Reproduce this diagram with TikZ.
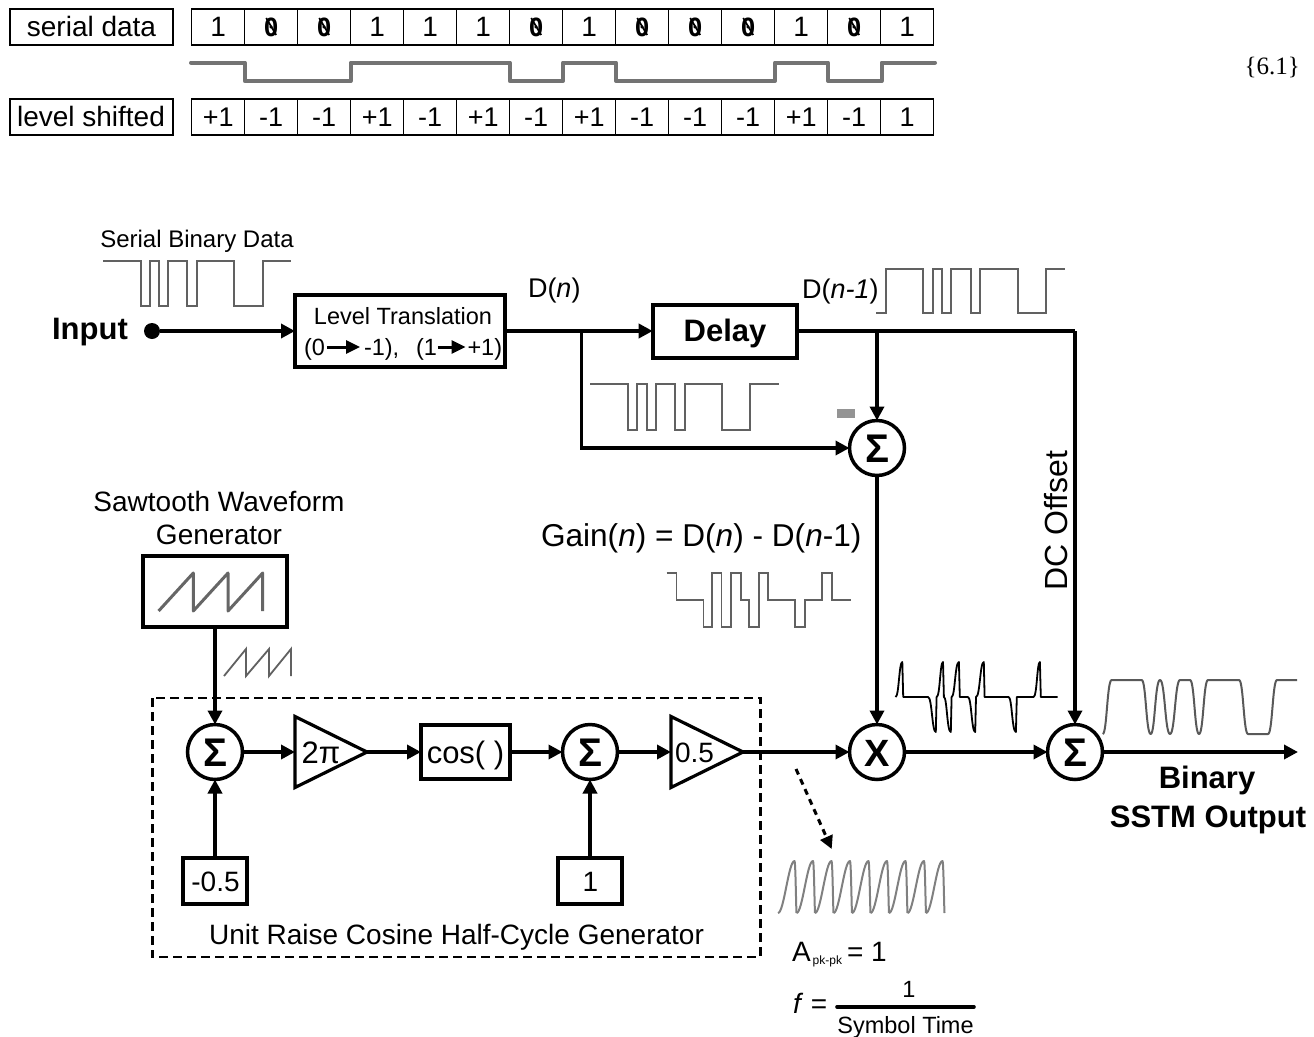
\documentclass[tikz,border=0pt]{standalone}
\usepackage{fontspec}
\setmainfont{Liberation Sans}
\newfontfamily\serifnum{Liberation Serif}
\newfontfamily\zerofont{DejaVu Sans Mono}
\usetikzlibrary{arrows.meta,shapes.geometric,calc}
\newcommand{\fs}[1]{\fontsize{#1}{#1}\selectfont}
\tikzset{
  txt/.style={inner sep=0pt,outer sep=0pt,anchor=base,font=\fs{#1}},
  txtl/.style={inner sep=0pt,outer sep=0pt,anchor=base west,font=\fs{#1}},
  btxt/.style={inner sep=0pt,outer sep=0pt,anchor=base,font=\fs{#1}\bfseries},
  cell/.style={draw,line width=1.5pt,minimum width=53pt,minimum height=36pt,inner sep=0pt,outer sep=0pt},
  lbox/.style={draw,line width=1.5pt,minimum width=163pt,minimum height=36pt,inner sep=0pt,outer sep=0pt},
  heavybox/.style={draw,line width=4pt,inner sep=0pt,outer sep=0pt},
  midbox/.style={draw,line width=3.5pt,inner sep=0pt,outer sep=0pt},
  sumnode/.style={draw,circle,line width=3.5pt,minimum size=55pt,inner sep=0pt,outer sep=0pt,fill=white},
  gainnode/.style={draw,isosceles triangle,isosceles triangle stretches,line width=3.2pt,minimum width=71pt,minimum height=72pt,inner sep=0pt,outer sep=0pt,anchor=lower side,line join=miter},
  wire/.style={line width=3.5pt,-{Triangle[length=14pt,width=14pt]}},
  plainwire/.style={line width=3.5pt},
  wave/.style={line width=1.8pt,color=black!62,line join=miter},
  fatwave/.style={line width=4pt,color=black!55,line join=round,line cap=round},
}
\begin{document}
\begin{tikzpicture}[x=1pt,y=-1pt]
\useasboundingbox (0,0) rectangle (1314,1036);
\fill[white] (0,0) rectangle (1314,1036);

% table
\node[lbox] (lab1) at (91.5,27) {};
\node[lbox] (lab2) at (91.5,117) {};
\node[txt=28] (lab1t) at (91.5,36) {serial data};
\node[txt=28] (lab2t) at (91,126) {level shifted};
\foreach \v [count=\i from 0] in {1,0,0,1,1,1,0,1,0,0,0,1,0,1}{
  \node[cell] (a\i) at ({191.7+53*\i+26.5},27) {};
  \ifnum\v=0
    \node[txt=25] (at\i) at ({191.7+53*\i+26.5},36) {\zerofont\bfseries 0};
    \draw[line width=1.7pt] ($(at\i.base)+(-5,-18)$) -- ($(at\i.base)+(5,-1)$);
  \else
    \node[txt=28] (at\i) at ({191.7+53*\i+26.5},36) {1};
  \fi
}
\foreach \v [count=\i from 0] in {+1,-1,-1,+1,-1,+1,-1,+1,-1,-1,-1,+1,-1,1}{
  \node[cell] (b\i) at ({191.7+53*\i+26.5},117) {};
  \node[txt=27] (bt\i) at ({191.7+53*\i+26.5},126) {\v};
}
\draw[fatwave] (191,62.5) -- (244.7,62.5) -- (244.7,81) -- (350.7,81) -- (350.7,62.5) -- (509.7,62.5) -- (509.7,81) -- (563,81) -- (563,62.5) -- (616,62.5) -- (616,81) -- (775,81) -- (775,62.5) -- (828,62.5) -- (828,81) -- (881.5,81) -- (881.5,62.5) -- (935,62.5);
\node[inner sep=0pt,anchor=base east,font=\fs{25}\serifnum] (eq) at (1300,74) {\{6.1\}};

% top row
\node[txt=24] (sbd) at (197,247) {Serial Binary Data};
\draw[wave] (103,261) -- (141,261) -- (141,306) -- (150,306) -- (150,261) -- (158.6,261) -- (158.6,306) -- (168,306) -- (168,261) -- (187,261) -- (187,306) -- (197,306) -- (197,261) -- (234,261) -- (234,306) -- (263,306) -- (263,261) -- (291,261);
\node[btxt=31] (inp) at (90,339) {Input};
\node[circle,fill=black,minimum size=16pt,inner sep=0pt,outer sep=0pt] (dot) at (152,331) {};
\node[heavybox,minimum width=210pt,minimum height=72pt] (lev) at (400,331) {};
\node[txt=23.5] (levt) at (403,324) {Level Translation};
\node[txtl=23.5] (p0) at (304,355) {(0};
\node[txtl=23.5] (m1) at (364,355) {-1),};
\node[txtl=23.5] (p1) at (416,355) {(1};
\node[txtl=23.5] (pp1) at (467.5,355) {+1)};
\draw[line width=3pt,-{Triangle[length=14pt,width=13pt]}] ($(p0.base east)+(2,-8)$) -- ($(m1.base west)+(-4,-8)$);
\draw[line width=3pt,-{Triangle[length=14pt,width=13pt]}] ($(p1.base east)+(1,-8)$) -- ($(pp1.base west)+(-2,-8)$);
\node[txtl=27] (dn) at (528,297) {D(\textit{n})};
\node[heavybox,minimum width=144pt,minimum height=53pt] (del) at (724.7,331) {};
\node[btxt=31] (delt) at (725,341) {Delay};
\node[txtl=27] (dn1) at (802,298) {D(\textit{n-1})};
\draw[wave] (876,313) -- (885.7,313) -- (885.7,269) -- (923,269) -- (923,313) -- (932.7,313) -- (932.7,269) -- (941.7,269) -- (941.7,313) -- (950.7,313) -- (950.7,269) -- (970.7,269) -- (970.7,313) -- (980,313) -- (980,269) -- (1017.7,269) -- (1017.7,313) -- (1045.7,313) -- (1045.7,269) -- (1065,269);
\draw[wave] (590,384) -- (628,384) -- (628,430) -- (636.7,430) -- (636.7,384) -- (646.7,384) -- (646.7,430) -- (656,430) -- (656,384) -- (675,384) -- (675,430) -- (685,430) -- (685,384) -- (722,384) -- (722,430) -- (750,430) -- (750,384) -- (779,384);
\fill[black!42] (837,409) rectangle (855,418);
\node[sumnode] (sa) at (877,448) {};
\node[btxt=40] (sat) at (877,462) {Σ};
\coordinate (jn) at (581.7,331);
\coordinate (jd) at (877,331);
\coordinate (cr) at (1075,331);

% gain
\node[txtl=31.6] (gain) at (541,546) {Gain(\textit{n}) = D(\textit{n}) - D(\textit{n}-1)};
\draw[wave] (666.6,573) -- (676.4,573) -- (676.4,600) -- (703.4,600) -- (703.4,627) -- (712,627) -- (712,573) -- (721.4,573) -- (721.4,627) -- (731,627) -- (731,573) -- (740.7,573) -- (740.7,600) -- (749.3,600) -- (749.3,627) -- (758.7,627) -- (758.7,573) -- (767.7,573) -- (767.7,600) -- (795,600) -- (795,627) -- (804.6,627) -- (804.6,600) -- (822,600) -- (822,573) -- (832,573) -- (832,600) -- (851,600);
\node[txt=32,rotate=90] (dco) at (1067,521) {DC Offset};

% sawtooth
\node[txt=28] (sw1) at (219,511) {Sawtooth Waveform};
\node[txt=28] (sw2) at (219,544) {Generator};
\node[heavybox,minimum width=144pt,minimum height=71pt] (saw) at (215,591) {};
\draw[line width=3pt,color=black!60,line join=round] (158.6,611) -- (193.3,573) -- (193.3,611) -- (228,573) -- (228,611) -- (262.7,573) -- (262.7,611);
\draw[wave] (224,676) -- (246,649) -- (246,676) -- (269,649) -- (269,676) -- (291,649) -- (291,676);

% cosine generator
\draw[dashed,line width=2.5pt,dash pattern=on 9pt off 5pt] (152.4,698) rectangle (760.6,957);
\node[sumnode] (s1) at (215,752) {};
\node[btxt=40] (s1t) at (215,766) {Σ};
\node[gainnode] (g1) at (295,752) {};
\node[txt=31] (g1t) at (321,763) {2π};
\node[midbox,minimum width=89pt,minimum height=54pt] (cosb) at (465.5,752) {};
\node[txt=31] (cost) at (465.5,763) {cos( )};
\node[sumnode] (s2) at (590,752) {};
\node[btxt=40] (s2t) at (590,766) {Σ};
\node[gainnode] (g2) at (671,752) {};
\node[txt=28] (g2t) at (694.5,762) {0.5};
\node[midbox,minimum width=64pt,minimum height=46pt] (mh) at (215,881) {};
\node[txt=28] (mht) at (215.5,891) {-0.5};
\node[midbox,minimum width=64pt,minimum height=46pt] (one) at (590,881) {};
\node[txt=28] (onet) at (590.5,891) {1};
\node[txt=28] (unit) at (456.5,944) {Unit Raise Cosine Half-Cycle Generator};

% right part
\node[sumnode] (xx) at (877,752) {};
\node[btxt=38] (xxt) at (877,766) {X};
\node[sumnode] (s3) at (1075,752) {};
\node[btxt=40] (s3t) at (1075,766) {Σ};
\coordinate (out) at (1298,752);
\node[btxt=31] (bin) at (1207,788) {Binary};
\node[btxt=31] (sstm) at (1208,827) {SSTM Output};
\draw[line width=1.8pt,color=black,line join=round] (895.5,697) .. controls (899,697) and (899,662) .. (902.3,662) -- (903.2,697) -- (928,697) .. controls (932,697) and (932,732) .. (935.8,732) -- (936.6,697) .. controls (940,697) and (940,662) .. (943,662) -- (943.9,697) .. controls (947,697) and (947,732) .. (950.8,732) -- (951.6,697) .. controls (955,697) and (955,662) .. (958.9,662) -- (959.8,697) -- (967.9,697) .. controls (971.5,697) and (971.5,732) .. (975.2,732) -- (976,697) .. controls (980,697) and (980,662) .. (983.8,662) -- (984.6,697) -- (1008.6,697) .. controls (1012,697) and (1012,732) .. (1015.9,732) -- (1016.8,697) -- (1033.5,697) .. controls (1037,697) and (1037,662) .. (1039.9,662) -- (1040.8,697) -- (1057.5,697);
\draw[line width=2pt,color=black!65,line join=round] (1102.7,734) .. controls (1107,734) and (1107,680) .. (1111.7,680) -- (1141.7,680) .. controls (1146,680) and (1146,734) .. (1150.7,734) .. controls (1155,734) and (1155,680) .. (1160,680) .. controls (1165,680) and (1165,734) .. (1170,734) .. controls (1175,734) and (1175,680) .. (1180,680) -- (1190,680) .. controls (1194.5,680) and (1194.5,734) .. (1199,734) .. controls (1203.5,734) and (1203.5,680) .. (1208,680) -- (1239,680) .. controls (1243.5,680) and (1243.5,734) .. (1248,734) -- (1268,734) .. controls (1272.5,734) and (1272.5,680) .. (1277,680) -- (1297,680);
\foreach \k in {0,...,8}{
  \pgfmathsetmacro{\xa}{778+18.5*\k}
  \draw[line width=2pt,color=black!50,line join=round] (\xa,913) .. controls ({\xa+6},913) and ({\xa+10.5},861) .. ({\xa+16.5},861) .. controls ({\xa+17.5},861) and ({\xa+18},905) .. ({\xa+18.5},913);
}
\coordinate (da) at (796,769);
\coordinate (db) at (831.7,849);
\draw[line width=3pt,dash pattern=on 6pt off 5pt,-{Triangle[length=13pt,width=13pt]}] (da) -- (db);
\node[txtl=28] (app) at (792,961) {A\raisebox{-3.5pt}{\fontsize{12}{12}\selectfont\hspace{2pt}pk-pk}\hspace{5pt}= 1};
\node[txtl=28] (feq) at (793,1013) {\textit{f} =};
\node[txt=23.5] (fr1) at (909,997) {1};
\node[txt=23.5] (fr2) at (905.5,1033) {Symbol Time};
\coordinate (ra) at (837,1006.7);
\coordinate (rb) at (974,1006.7);
\draw[line width=3.6pt,line cap=round] (ra) -- (rb);

% connectors
\draw[wire] (dot) -- (lev.west);
\draw[wire] (lev.east) -- (del.west);
\draw[plainwire] (del.east) -- (jd) -- (cr);
\draw[wire] (jd) -- (sa.north);
\draw[wire] (jn) -- (jn |- sa.west) -- (sa.west);
\draw[wire] (sa.south) -- (xx.north);
\draw[wire] (cr) -- (s3.north);
\draw[wire] (saw.south) -- (s1.north);
\draw[wire] (s1.east) -- (g1.lower side);
\draw[wire] (g1.apex) -- (cosb.west);
\draw[wire] (cosb.east) -- (s2.west);
\draw[wire] (s2.east) -- (g2.lower side);
\draw[wire] (g2.apex) -- (xx.west);
\draw[wire] (xx.east) -- (s3.west);
\draw[wire] (s3.east) -- (out);
\draw[wire] (mh.north) -- (s1.south);
\draw[wire] (one.north) -- (s2.south);
\end{tikzpicture}
\end{document}
